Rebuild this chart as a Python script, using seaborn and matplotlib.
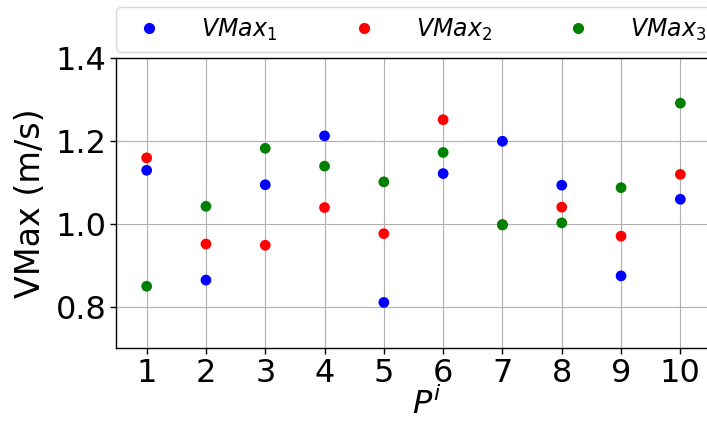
import matplotlib
matplotlib.use("Agg")
import matplotlib.pyplot as plt
import seaborn as sns
import pandas as pd

positions = [1, 2, 3, 4, 5, 6, 7, 8, 9, 10]
vmax1 = [1.129, 0.864, 1.094, 1.212, 0.810, 1.121, 1.199, 1.093, 0.874, 1.059]
vmax2 = [1.159, 0.951, 0.948, 1.039, 0.976, 1.251, 0.998, 1.040, 0.970, 1.119]
vmax3 = [0.849, 1.042, 1.182, 1.139, 1.101, 1.172, 0.997, 1.002, 1.087, 1.291]
series_labels = ["$VMax_1$", "$VMax_2$", "$VMax_3$"]
colors = ["blue", "red", "green"]

rows = []
for lab, vals in zip(series_labels, [vmax1, vmax2, vmax3]):
    for p, v in zip(positions, vals):
        rows.append({"P": p, "V": v, "series": lab})
df = pd.DataFrame(rows)

sns.set_style("white")
plt.rcParams['font.family'] = ['DejaVu Sans']
plt.rcParams['text.color'] = 'black'
plt.rcParams['axes.labelcolor'] = 'black'
plt.rcParams['xtick.color'] = 'black'
plt.rcParams['ytick.color'] = 'black'

fig = plt.figure(figsize=(7.07, 4.21), dpi=100)
ax = fig.add_axes([116/707, 1 - 348/421, (707 - 116 + 30)/707, (348 - 58)/421])

sns.scatterplot(data=df, x="P", y="V", hue="series", palette=colors,
                s=60, edgecolor="none", ax=ax, legend=False, zorder=3)

ax.set_xlim(0.483, 10.45 + 30/59.37)
ax.set_ylim(0.7, 1.4)
ax.set_xticks(positions)
ax.set_yticks([0.8, 1.0, 1.2, 1.4])
ax.set_yticklabels(["0.8", "1.0", "1.2", "1.4"])
ax.grid(True, color="#b0b0b0", linewidth=0.8)
ax.tick_params(axis="both", labelsize=23, length=4, width=1, direction="out",
               bottom=True, left=True, pad=3, colors="black")
for s in ax.spines.values():
    s.set_color("black")
    s.set_linewidth(1)
ax.set_xlabel("$P^i$", fontsize=23, labelpad=-1, color="black")
ax.set_ylabel("VMax (m/s)", fontsize=24, labelpad=6, color="black")

handles = [plt.Line2D([], [], marker="o", linestyle="none", color=c,
                      markersize=7) for c in colors]
leg = fig.legend(handles, series_labels, ncol=3, fontsize=17,
                 loc="lower left", bbox_to_anchor=(116/707, 1 - 52/421, 600/707, 44/421),
                 mode="expand", frameon=True, fancybox=True, handletextpad=1.2,
                 borderaxespad=0)
leg.get_frame().set_edgecolor("#d0d0d0")
for t in leg.get_texts():
    t.set_color("black")

fig.savefig("out.png", dpi=100)
